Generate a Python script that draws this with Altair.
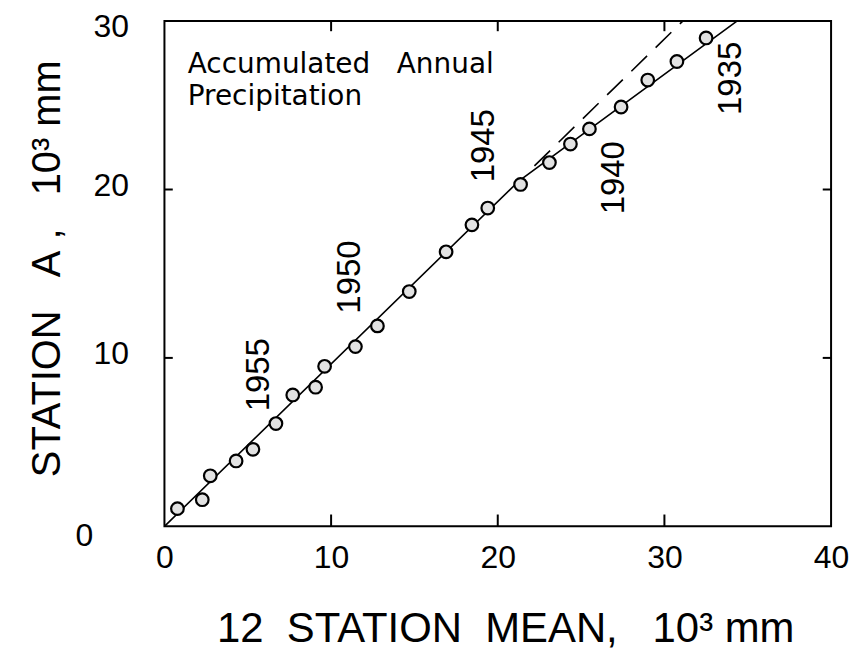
import altair as alt
import pandas as pd

# ---- data (10^3 mm) ----
mean12 = [0.78, 2.27, 2.75, 4.30, 5.31, 6.69, 7.70, 9.07, 9.61, 11.46, 12.78, 14.69,
          16.9, 18.45, 19.4, 21.37, 23.1, 24.36, 25.5, 27.4, 29.0, 30.75, 32.5]
station_a = [1.05, 1.58, 3.0, 3.88, 4.57, 6.1, 7.8, 8.26, 9.5, 10.67, 11.9, 13.94,
             16.3, 17.9, 18.9, 20.3, 21.6, 22.7, 23.6, 24.9, 26.5, 27.6, 29.0]

solid_x = [0.0, 21.26, 34.35]
solid_y = [0.0, 20.5, 30.0]
dash_x = [22.2, 31.1]
dash_y = [21.4, 30.0]

year_labels = ["1955", "1950", "1945", "1940", "1935"]
year_x = [5.67, 11.16, 19.2, 27.0, 34.0]
year_y = [9.0, 14.8, 22.6, 20.7, 26.6]

note_lines = ["Accumulated\u00a0\u00a0\u00a0Annual", "Precipitation"]
note_x = [1.4, 1.4]
note_y = [26.9, 25.0]

x_ticks = [0, 10, 20, 30, 40]
y_ticks = [0, 10, 20, 30]
inner_x_ticks = [10, 20, 30]
inner_y_ticks = [10, 20]

FONT = "Liberation Sans"
NOTE_FONT = "DejaVu Sans"

pts = pd.DataFrame({"x": mean12, "y": station_a})
solid = pd.DataFrame({"x": solid_x, "y": solid_y})
dash = pd.DataFrame({"x": dash_x, "y": dash_y})
years = pd.DataFrame({"x": year_x, "y": year_y, "t": year_labels})
notes = pd.DataFrame({"x": note_x, "y": note_y, "t": note_lines})

rows = []
for v in inner_x_ticks:
    rows.append({"x": v, "x2": v, "y": 0, "y2": 0.7})
    rows.append({"x": v, "x2": v, "y": 29.4, "y2": 30})
for v in inner_y_ticks:
    rows.append({"x": 0, "x2": 0.5, "y": v, "y2": v})
    rows.append({"x": 39.5, "x2": 40, "y": v, "y2": v})
ticks = pd.DataFrame(rows)

xs = alt.Scale(domain=[0, 40], nice=False, zero=False)
ys = alt.Scale(domain=[0, 30], nice=False, zero=False)

x_axis = alt.Axis(
    values=x_ticks, grid=False, ticks=False, tickSize=0, domain=False,
    labelFont=FONT, labelFontSize=32, labelColor="black", labelPadding=16,
    labelFlush=False,
    title="12\u00a0\u00a0STATION\u00a0\u00a0MEAN,\u00a0\u00a0\u00a010\u00b3\u00a0mm",
    titleFont=FONT, titleFontSize=42, titleFontWeight="normal", titleColor="black",
    titleX=342, titleY=116, titleBaseline="alphabetic", titleAlign="center",
)
y_axis = alt.Axis(
    values=y_ticks, grid=False, ticks=False, tickSize=0, domain=False,
    labelFont=FONT, labelFontSize=32, labelColor="black",
    labelPadding={"condition": {"test": "datum.value === 0", "value": 72}, "value": 36},
    labelOffset={"condition": [{"test": "datum.value === 0", "value": 9},
                               {"test": "datum.value === 30", "value": 5}],
                 "value": -4},
    labelFlush=False,
    title="STATION\u00a0\u00a0\u00a0A\u00a0,\u00a0\u00a0\u00a010\u00b3\u00a0mm",
    titleFont=FONT, titleFontSize=40, titleFontWeight="normal", titleColor="black",
    titleAngle=270, titleX=-105, titleY=248, titleBaseline="alphabetic",
    titleAlign="center",
)

base_line = alt.Chart(solid).mark_line(color="black", strokeWidth=1.6).encode(
    x=alt.X("x:Q", scale=xs, axis=x_axis),
    y=alt.Y("y:Q", scale=ys, axis=y_axis),
)
dash_line = alt.Chart(dash).mark_line(color="black", strokeWidth=1.6, strokeDash=[22, 12]).encode(
    x=alt.X("x:Q", scale=xs), y=alt.Y("y:Q", scale=ys)
)
points = alt.Chart(pts).mark_point(
    shape="circle", filled=True, fill="#e2e2e2", stroke="black", strokeWidth=2.2,
    size=160, opacity=1,
).encode(x=alt.X("x:Q", scale=xs), y=alt.Y("y:Q", scale=ys))
year_text = alt.Chart(years).mark_text(
    angle=270, align="center", baseline="middle", font=FONT, fontSize=33, color="black"
).encode(x=alt.X("x:Q", scale=xs), y=alt.Y("y:Q", scale=ys), text="t:N")
note_text = alt.Chart(notes).mark_text(
    align="left", baseline="alphabetic", font=NOTE_FONT, fontSize=28, color="black"
).encode(x=alt.X("x:Q", scale=xs), y=alt.Y("y:Q", scale=ys), text="t:N")
tick_rules = alt.Chart(ticks).mark_rule(color="black", strokeWidth=2).encode(
    x=alt.X("x:Q", scale=xs), x2="x2:Q", y=alt.Y("y:Q", scale=ys), y2="y2:Q"
)

chart = alt.layer(base_line, dash_line, points, year_text, note_text, tick_rules).properties(
    width=669, height=507,
    autosize=alt.AutoSizeParams(type="none"),
    padding={"left": 157, "top": 12, "right": 20, "bottom": 127},
    background="white",
).configure_view(stroke="black", strokeWidth=2)

chart.save("out.html", embed_options={"renderer": "svg", "actions": False})
